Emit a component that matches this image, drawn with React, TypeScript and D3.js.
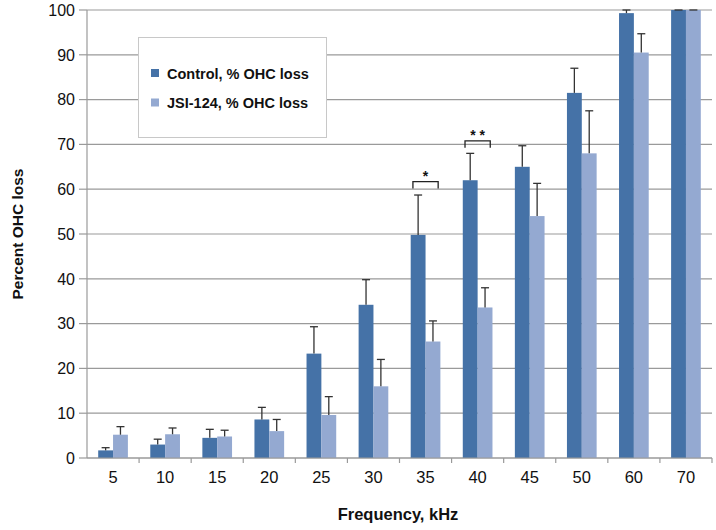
import React from "react";
import * as d3 from "d3";

const categories = ["5", "10", "15", "20", "25", "30", "35", "40", "45", "50", "60", "70"];
const controlValues = [1.7, 3.0, 4.5, 8.6, 23.3, 34.2, 49.8, 62.0, 65.0, 81.5, 99.3, 100];
const controlErrors = [0.6, 1.2, 1.9, 2.7, 6.0, 5.6, 8.9, 6.0, 4.7, 5.5, 0.7, 0];
const jsiValues = [5.2, 5.3, 4.8, 6.0, 9.6, 16.0, 26.0, 33.6, 54.0, 68.0, 90.5, 100];
const jsiErrors = [1.8, 1.4, 1.4, 2.6, 4.1, 6.0, 4.6, 4.4, 7.3, 9.5, 4.2, 0];
const seriesNames = ["Control, % OHC loss", "JSI-124, % OHC loss"];
const yTicks = [0, 10, 20, 30, 40, 50, 60, 70, 80, 90, 100];
const significance = [
  { category: "35", label: "*", level: 61.7 },
  { category: "40", label: "* *", level: 70.8 },
];

const W = 716;
const H = 530;
const margin = { left: 87, right: 4, top: 10, bottom: 72 };
const colors = ["#4572A7", "#94A9D1"];
const font = "Liberation Sans, Arial, sans-serif";

export default function App() {
  const x = d3
    .scaleBand<string>()
    .domain(categories)
    .range([margin.left, W - margin.right]);
  const y = d3.scaleLinear().domain([0, 100]).range([H - margin.bottom, margin.top]);
  const barW = x.bandwidth() * 0.285;
  const series = [
    { values: controlValues, errors: controlErrors },
    { values: jsiValues, errors: jsiErrors },
  ];
  const capW = 8;
  const y0 = y(0);

  return (
    <svg
      width={W}
      height={H}
      style={{ position: "absolute", left: 0, top: 0, background: "#fff" }}
      fontFamily={font}
    >
      {yTicks.map((t) => (
        <line
          key={"g" + t}
          x1={margin.left}
          x2={W - margin.right}
          y1={y(t)}
          y2={y(t)}
          stroke="#9a9a9a"
          strokeWidth={1.2}
        />
      ))}
      <line x1={margin.left} x2={margin.left} y1={y(100)} y2={y0} stroke="#9a9a9a" strokeWidth={1.2} />
      {yTicks.map((t) => (
        <g key={"yt" + t}>
          <line x1={margin.left - 8} x2={margin.left} y1={y(t)} y2={y(t)} stroke="#9a9a9a" strokeWidth={1.2} />
          <text x={margin.left - 12} y={y(t)} dy="0.36em" textAnchor="end" fontSize={16} fill="#111">
            {t}
          </text>
        </g>
      ))}
      {series.map((s, si) =>
        categories.map((c, i) => {
          const cx = (x(c) as number) + x.bandwidth() / 2;
          const bx = cx - barW + si * barW;
          return (
            <rect
              key={"b" + si + c}
              x={bx}
              y={y(s.values[i])}
              width={barW}
              height={y0 - y(s.values[i])}
              fill={colors[si]}
            />
          );
        })
      )}
      {series.map((s, si) =>
        categories.map((c, i) => {
          const cx = (x(c) as number) + x.bandwidth() / 2;
          const ex = cx - barW + si * barW + barW / 2;
          const top = y(Math.min(100, s.values[i] + s.errors[i]));
          return (
            <g key={"e" + si + c} stroke="#333" strokeWidth={1.3}>
              <line x1={ex} x2={ex} y1={y(s.values[i])} y2={top} />
              <line x1={ex - capW / 2} x2={ex + capW / 2} y1={top} y2={top} />
            </g>
          );
        })
      )}
      <line x1={margin.left} x2={W - margin.right} y1={y0} y2={y0} stroke="#9a9a9a" strokeWidth={1.2} />
      {categories.map((c) => (
        <line
          key={"xt" + c}
          x1={(x(c) as number) + x.bandwidth()}
          x2={(x(c) as number) + x.bandwidth()}
          y1={y0}
          y2={y0 + 5}
          stroke="#9a9a9a"
          strokeWidth={1.2}
        />
      ))}
      {categories.map((c) => (
        <text
          key={"xl" + c}
          x={(x(c) as number) + x.bandwidth() / 2}
          y={y0 + 25}
          textAnchor="middle"
          fontSize={16.5}
          fill="#111"
        >
          {c}
        </text>
      ))}
      {significance.map((s) => {
        const cx = (x(s.category) as number) + x.bandwidth() / 2;
        const l = cx - barW + barW * 0.15;
        const r = cx + barW - barW * 0.15;
        const ty = y(s.level);
        return (
          <g key={"s" + s.category}>
            <path
              d={`M${l},${ty + 7}V${ty}H${r}V${ty + 7}`}
              fill="none"
              stroke="#222"
              strokeWidth={1.3}
            />
            <text x={cx} y={ty - 1} textAnchor="middle" fontSize={14} fontWeight="bold" fill="#111">
              {s.label}
            </text>
          </g>
        );
      })}
      <rect x={138.5} y={37.5} width={188} height={100} fill="#fff" stroke="#c8c8c8" strokeWidth={1} />
      {seriesNames.map((n, i) => (
        <g key={"l" + i}>
          <rect x={151} y={69 + i * 29.5} width={8} height={8} fill={colors[i]} />
          <text x={167} y={78.5 + i * 29.5} fontSize={14.5} fontWeight="bold" fill="#111">
            {n}
          </text>
        </g>
      ))}
      <text
        transform={`translate(${23},${(y(0) + y(100)) / 2}) rotate(-90)`}
        textAnchor="middle"
        fontSize={15.5}
        fontWeight="bold"
        fill="#111"
      >
        Percent OHC loss
      </text>
      <text x={398} y={520} textAnchor="middle" fontSize={16.5} fontWeight="bold" fill="#111">
        Frequency, kHz
      </text>
    </svg>
  );
}
